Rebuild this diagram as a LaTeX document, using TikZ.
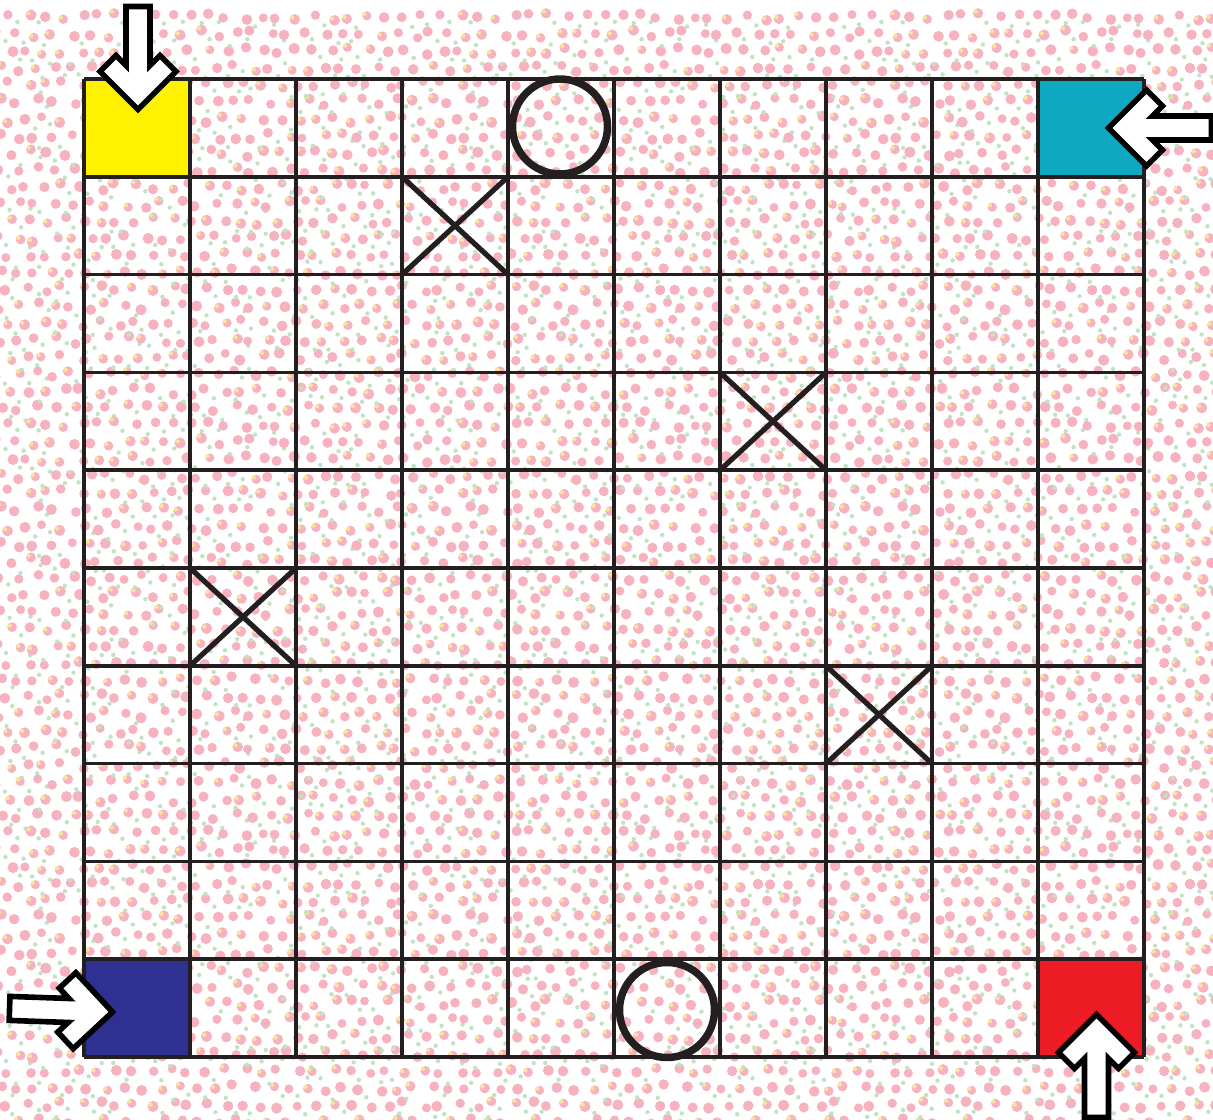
\documentclass[tikz,border=0pt]{standalone}
\definecolor{pinkdot}{HTML}{F7B2C0}
\definecolor{greendot}{HTML}{BFE3C3}
\definecolor{yellowdot}{HTML}{F8E49A}
\definecolor{gridc}{HTML}{231F20}
\definecolor{cyellow}{HTML}{FFF200}
\definecolor{cteal}{HTML}{0EA9C1}
\definecolor{cnavy}{HTML}{2E3192}
\definecolor{cred}{HTML}{ED1C24}
\newsavebox\dottile
\tikzset{
  gridline/.style={draw=gridc, line width=2.6pt},
  crossline/.style={draw=gridc, line width=3.9pt},
  ring/.style={draw=gridc, line width=5.6pt},
  blockarrow/.style={fill=white, draw=black, line width=4.2pt, line join=miter},
  tilebox/.style={inner sep=0pt, outer sep=0pt, anchor=north west},
}
\newcommand\boardarrow[3]{%
  \draw[blockarrow, shift={(#1,#2)}, rotate=#3]
    (0,0) -- (-38,38) -- (-54,22) -- (-44,12) -- (-103,12) -- (-103,-12)
    -- (-44,-12) -- (-54,-22) -- (-38,-38) -- cycle;}
\begin{document}%
\sbox\dottile{%
\begin{pgfpicture}%
  \pgfpathrectangle{\pgfpointorigin}{\pgfpoint{324pt}{306pt}}%
  \pgfusepath{use as bounding box}%
  \pgfmathsetseed{11}%
  \foreach \j in {0,...,23}{%
    \foreach \i in {0,...,23}{%
      \pgfmathsetmacro\px{(\i*18+9*mod(\j,2)+4.5*rand)*0.75}%
      \pgfmathsetmacro\py{(\j*17+4*rand)*0.75}%
      \pgfmathsetmacro\rr{3.75+0.45*rand}%
      \pgfsetfillcolor{pinkdot}%
      \pgfpathcircle{\pgfpoint{\px pt}{\py pt}}{\rr pt}\pgfusepath{fill}%
      \pgfmathsetmacro\ry{rnd}%
      \ifdim\ry pt<0.35pt
        \pgfsetfillcolor{yellowdot}%
        \pgfpathcircle{\pgfpoint{\px pt-1.8pt}{\py pt+1.3pt}}{1.6pt}\pgfusepath{fill}%
      \fi
      \pgfmathsetmacro\rg{rnd}%
      \ifdim\rg pt<0.65pt
        \pgfmathsetmacro\gx{\px+(9+2*rand)*0.75}%
        \pgfmathsetmacro\gy{\py-(8.5+2*rand)*0.75}%
        \pgfsetfillcolor{greendot}%
        \pgfpathcircle{\pgfpoint{\gx pt}{\gy pt}}{1.65pt}\pgfusepath{fill}%
      \fi
    }%
  }%
\end{pgfpicture}}%
\begin{tikzpicture}[x=0.75pt,y=-0.75pt]
\useasboundingbox (0,0) rectangle (1213,1120);
\fill[white] (0,0) rectangle (1213,1120);
% dotted background, tiled
\foreach \tx in {0,1,2}{
  \foreach \ty in {0,1,2}{
    \node[tilebox] (tile-\tx-\ty) at ({\tx*432},{\ty*408}) {\usebox\dottile};
  }
}
% coloured corner cells
\fill[cyellow] (84,79) rectangle (190,177);
\fill[cteal] (1038,79) rectangle (1144,177);
\fill[cnavy] (84,960) rectangle (190,1057);
\fill[cred] (1038,960) rectangle (1144,1057);
% grid
\foreach \i in {0,...,10}{
  \draw[gridline] ({84+106*\i},79) -- ({84+106*\i},1057);
  \draw[gridline] (84,{79+97.8*\i}) -- (1144,{79+97.8*\i});
}
% crosses
\foreach \cx/\cy in {3/1, 6/3, 1/5, 7/6}{
  \draw[crossline] ({84+106*\cx},{79+97.8*\cy}) -- ({84+106*(\cx+1)},{79+97.8*(\cy+1)});
  \draw[crossline] ({84+106*\cx},{79+97.8*(\cy+1)}) -- ({84+106*(\cx+1)},{79+97.8*\cy});
}
% rings
\draw[ring] (560,126.5) circle (47.5);
\draw[ring] (667,1010) circle (47.5);
% arrows
\boardarrow{138}{109.5}{-90}
\boardarrow{1108.5}{128}{180}
\boardarrow{112.5}{1012}{-2}
\boardarrow{1096.5}{1014.5}{90}
\end{tikzpicture}
\end{document}
